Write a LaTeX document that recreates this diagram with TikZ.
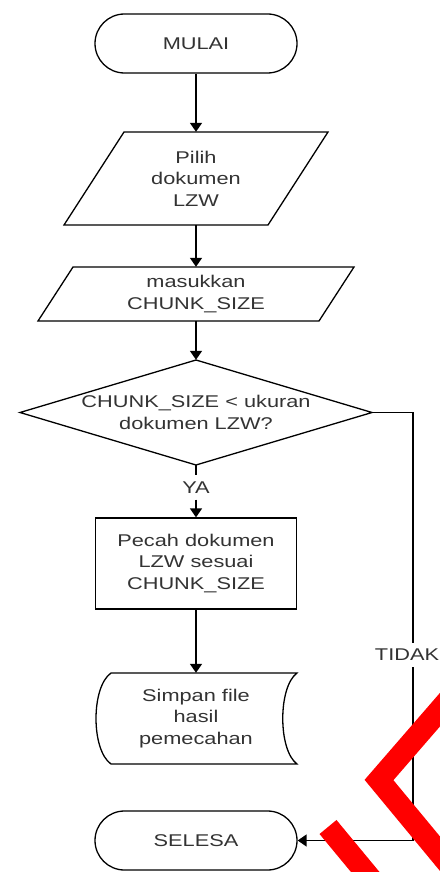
\documentclass[tikz,border=0pt]{standalone}
\usepackage{fontspec}
\setmainfont[FakeStretch=1.28]{Liberation Sans}
\usetikzlibrary{arrows.meta}
\begin{document}
\begin{tikzpicture}[x=1pt,y=-1pt,
  txt/.style={font=\fontsize{17}{21.5}\selectfont, text=black!80, align=center},
  term/.style={txt, draw, line width=1.3pt, rounded corners=29.5pt, minimum width=202pt, minimum height=59pt, inner sep=0pt},
  frame/.style={txt, draw=none, inner sep=0pt},
  outline/.style={draw, line width=1.3pt, line join=miter},
  flow/.style={draw, line width=1.6pt, -{Triangle[width=12pt,length=9pt]}},
  plain/.style={draw, line width=1.6pt},
  lbl/.style={txt, fill=white, inner xsep=1pt, inner ysep=6pt},
  redmark/.style={draw=red, line width=22pt}
]
\useasboundingbox (0,0) rectangle (439,872);

% start
\node[term] (mulai) at (196,43.5) {MULAI};

% input 1
\draw[outline] (124,132) -- (328,132) -- (268,225) -- (64,225) -- cycle;
\node[frame, minimum width=264pt, minimum height=93pt] (pilih) at (196,178.5) {Pilih\\dokumen\\LZW};

% input 2
\draw[outline] (73,267) -- (354,267) -- (319,321) -- (38,321) -- cycle;
\node[frame, minimum width=316pt, minimum height=54pt] (masuk) at (196,294) {masukkan\\CHUNK\_SIZE};

% decision
\draw[outline] (196,360) -- (372,412.5) -- (196,465) -- (20,412.5) -- cycle;
\node[frame, minimum width=352pt, minimum height=105pt] (dec) at (196,412.5) {CHUNK\_SIZE < ukuran\\dokumen LZW?};

% process
\node[txt, draw, line width=1.3pt, minimum width=201pt, minimum height=91pt, inner sep=0pt] (pecah) at (196,563.5) {Pecah dokumen\\LZW sesuai\\CHUNK\_SIZE};

% stored data
\draw[outline] (111,673) -- (297,673) .. controls (278,687) and (278,750) .. (297,764) -- (111,764) .. controls (91,750) and (91,687) .. (111,673) -- cycle;
\node[frame, minimum width=202pt, minimum height=91pt] (store) at (196,718.5) {Simpan file\\hasil\\pemecahan};

% end
\node[term] (selesa) at (196,840.5) {SELESA};

% connectors
\draw[flow] (mulai.south) -- (pilih.north);
\draw[flow] (pilih.south) -- (masuk.north);
\draw[flow] (masuk.south) -- (dec.north);
\node[lbl] (ya) at (196,487.5) {YA};
\draw[plain] (dec.south) -- (ya.north);
\draw[flow] (ya.south) -- (pecah.north);
\draw[flow] (pecah.south) -- (store.north);
\coordinate (tx) at (413,655);
\node[lbl, inner xsep=0.5pt] (tidak) at (407,655) {TIDAK};
\draw[plain] (dec.east) -- (dec.east -| tx) -- (tidak.north -| tx);
\draw[flow] (tidak.south -| tx) -- (tx |- selesa.east) -- (selesa.east);

% red marks
\draw[redmark] (470,675) -- (379,780) -- (470,890);
\draw[redmark] (328,827) -- (400,914);
\end{tikzpicture}
\end{document}
